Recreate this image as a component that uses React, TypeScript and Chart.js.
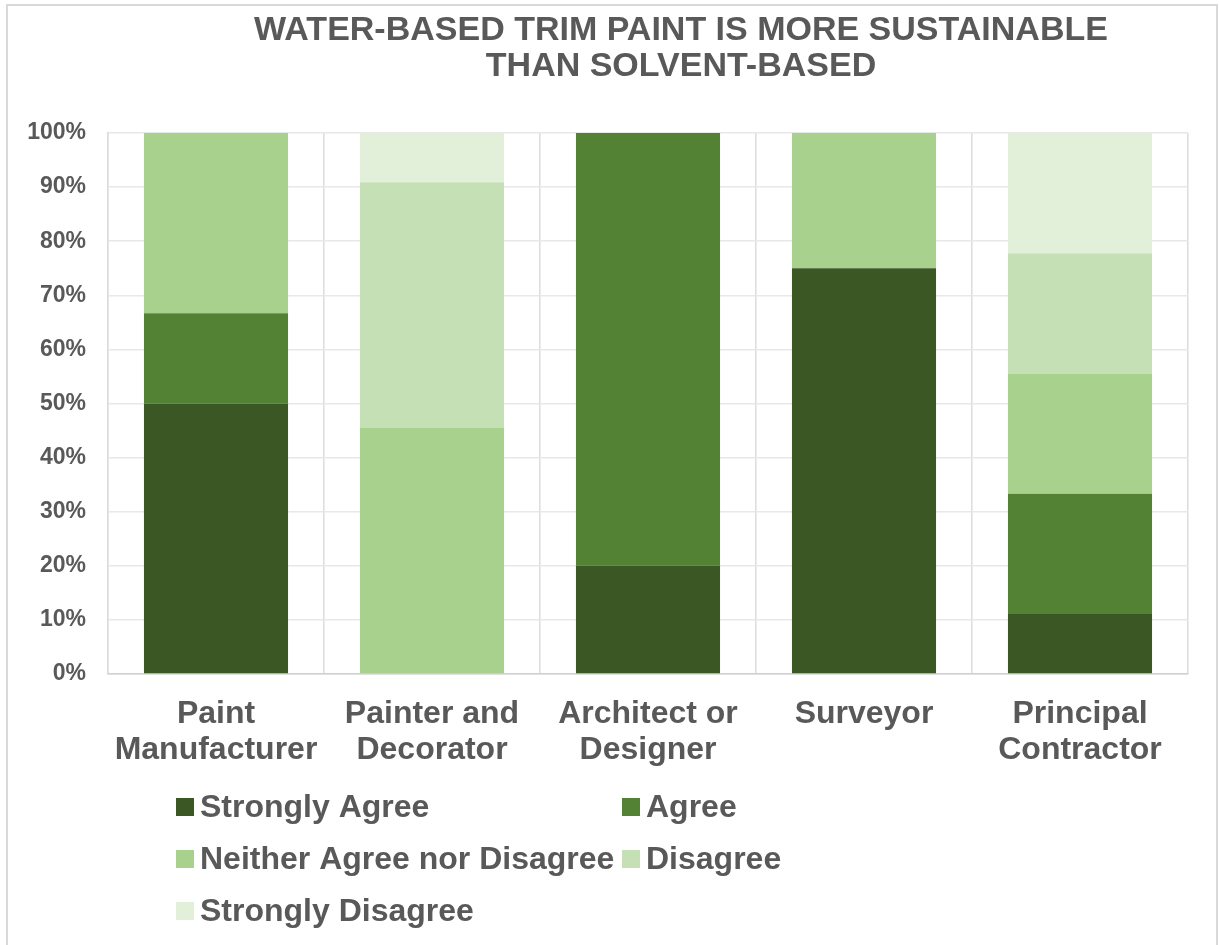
import React, { useEffect, useRef } from "react";
import { Chart, registerables } from "chart.js";

Chart.register(...registerables);

const TITLE_LINES = ["WATER-BASED TRIM PAINT IS MORE SUSTAINABLE", "THAN SOLVENT-BASED"];

const categories: string[][] = [
  ["Paint", "Manufacturer"],
  ["Painter and", "Decorator"],
  ["Architect or", "Designer"],
  ["Surveyor"],
  ["Principal", "Contractor"],
];

const seriesNames = [
  "Strongly Agree",
  "Agree",
  "Neither Agree nor Disagree",
  "Disagree",
  "Strongly Disagree",
];

const seriesColors = ["#3A5724", "#548235", "#A9D18E", "#C5E0B4", "#E2EFD9"];

// percentage of respondents in each group
const stronglyAgree = [50, 0, 20, 75, 11.11];
const agree = [16.67, 0, 80, 0, 22.22];
const neither = [33.33, 45.45, 0, 25, 22.22];
const disagree = [0, 45.45, 0, 0, 22.22];
const stronglyDisagree = [0, 9.09, 0, 0, 22.22];

const seriesValues = [stronglyAgree, agree, neither, disagree, stronglyDisagree];

const yTicks = [0, 10, 20, 30, 40, 50, 60, 70, 80, 90, 100];

const FONT = '"Liberation Sans", Arial, Helvetica, sans-serif';
const TEXT = "#595959";

const framePlugin = {
  id: "frame",
  beforeDraw(chart: any) {
    const { ctx } = chart;
    ctx.save();
    ctx.fillStyle = "#ffffff";
    ctx.fillRect(0, 0, chart.width, chart.height);
    ctx.strokeStyle = "#d9d9d9";
    ctx.lineWidth = 2;
    ctx.strokeRect(7, 5, chart.width - 9, chart.height + 20);
    ctx.restore();
  },
};

const titlePlugin = {
  id: "twoLineTitle",
  afterDraw(chart: any) {
    const { ctx } = chart;
    ctx.save();
    ctx.fillStyle = TEXT;
    ctx.font = `bold 34px ${FONT}`;
    ctx.textAlign = "center";
    ctx.textBaseline = "middle";
    TITLE_LINES.forEach((line, i) => ctx.fillText(line, 681, 31 + i * 36));
    ctx.restore();
  },
};

const legendPlugin = {
  id: "gridLegend",
  afterDraw(chart: any) {
    const { ctx } = chart;
    const cols = [176, 622];
    const rowY = [807, 859, 911];
    ctx.save();
    ctx.font = `bold 32px ${FONT}`;
    ctx.textBaseline = "middle";
    ctx.textAlign = "left";
    chart.data.datasets.forEach((ds: any, i: number) => {
      const x = cols[i % 2];
      const y = rowY[Math.floor(i / 2)];
      ctx.fillStyle = ds.backgroundColor;
      ctx.fillRect(x, y - 9, 18, 18);
      ctx.fillStyle = TEXT;
      ctx.fillText(ds.label, x + 24, y + 1);
    });
    ctx.restore();
  },
};

export default function App() {
  const canvasRef = useRef<HTMLCanvasElement | null>(null);

  useEffect(() => {
    if (!canvasRef.current) return;
    const chart = new Chart(canvasRef.current, {
      type: "bar",
      data: {
        labels: categories,
        datasets: seriesNames.map((name, i) => ({
          label: name,
          data: seriesValues[i],
          backgroundColor: seriesColors[i],
          borderWidth: 0,
          barPercentage: 0.667,
          categoryPercentage: 1,
        })),
      },
      options: {
        responsive: false,
        animation: false,
        devicePixelRatio: 1,
        layout: { padding: { top: 133, right: 31, bottom: 0, left: 0 } },
        plugins: {
          legend: { display: false },
          title: { display: false },
          tooltip: { enabled: false },
        },
        scales: {
          x: {
            stacked: true,
            grid: {
              color: "#dcdcdc",
              lineWidth: 1.5,
              drawTicks: false,
              offset: true,
            },
            border: { color: "#d0d0d0", width: 1.5 },
            ticks: {
              color: TEXT,
              font: { family: FONT, size: 32, weight: "bold", lineHeight: 1.125 },
              padding: 22,
              maxRotation: 0,
              autoSkip: false,
            },
            afterFit(scale: any) {
              scale.height = 271;
            },
          },
          y: {
            stacked: true,
            min: 0,
            max: 100,
            afterBuildTicks(scale: any) {
              scale.ticks = yTicks.map((v) => ({ value: v }));
            },
            grid: { color: "#e8e8e8", lineWidth: 1.5, drawTicks: false },
            border: { color: "#dcdcdc", width: 1.5 },
            ticks: {
              color: TEXT,
              font: { family: FONT, size: 23, weight: "bold" },
              padding: 22,
              callback: (v: any) => `${v}%`,
            },
            afterFit(scale: any) {
              scale.width = 108;
            },
          },
        },
      },
      plugins: [framePlugin, titlePlugin, legendPlugin],
    });
    return () => chart.destroy();
  }, []);

  return (
    <div style={{ position: "absolute", left: 0, top: 0, width: 1219, height: 945, background: "#fff" }}>
      <canvas ref={canvasRef} width={1219} height={945} style={{ display: "block" }} />
    </div>
  );
}
